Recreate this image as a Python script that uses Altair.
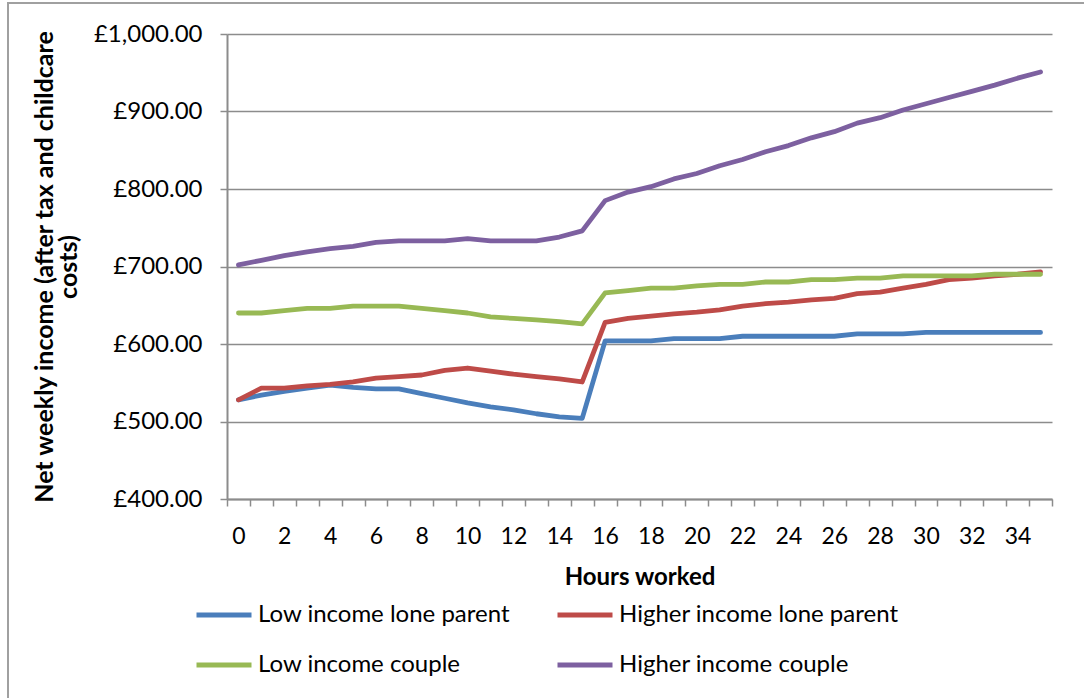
import altair as alt
import pandas as pd

hours = list(range(36))
series_names = [
    "Low income lone parent",
    "Higher income lone parent",
    "Low income couple",
    "Higher income couple",
]
low_lone = [528, 534, 539, 543, 547, 544, 542, 542, 536, 530, 524, 519, 515, 510, 506, 504,
            604, 604, 604, 607, 607, 607, 610, 610, 610, 610, 610, 613, 613, 613, 615, 615,
            615, 615, 615, 615]
high_lone = [528, 543, 543, 546, 548, 551, 556, 558, 560, 566, 569, 565, 561, 558, 555, 551,
             628, 633, 636, 639, 641, 644, 649, 652, 654, 657, 659, 665, 667, 672, 677, 683,
             685, 688, 690, 693]
low_couple = [640, 640, 643, 646, 646, 649, 649, 649, 646, 643, 640, 635, 633, 631, 629, 626,
              666, 669, 672, 672, 675, 677, 677, 680, 680, 683, 683, 685, 685, 688, 688, 688,
              688, 690, 690, 690]
high_couple = [702, 708, 714, 719, 723, 726, 731, 733, 733, 733, 736, 733, 733, 733, 738, 746,
               785, 796, 803, 813, 820, 830, 838, 848, 856, 866, 874, 885, 892, 902, 910, 918,
               926, 934, 943, 951]
y_ticks = [400, 500, 600, 700, 800, 900, 1000]
colors = ["#4A7EBB", "#BE4B48", "#98B954", "#7D60A0"]

rows = []
for name, vals in zip(series_names, [low_lone, high_lone, low_couple, high_couple]):
    for h, v in zip(hours, vals):
        rows.append({"hours": h, "income": v, "series": name})
df = pd.DataFrame(rows)

FONT = "Lato"
GRAY = "#8C8C8C"

lines = alt.Chart(df).mark_line(strokeWidth=4.8, strokeCap="round", strokeJoin="round").encode(
    x=alt.X(
        "hours:O",
        sort=hours,
        bandPosition=0.5,
        scale=alt.Scale(type="band", paddingInner=0, paddingOuter=0),
        axis=alt.Axis(
            title="Hours worked",
            labelAngle=0,
            tickBand="extent",
            labelExpr="datum.value % 2 == 0 ? datum.label : ''",
            labelOverlap=False,
            labelFont=FONT,
            labelFontSize=23,
            labelColor="#000000",
            labelPadding=19,
            tickSize=7,
            tickColor=GRAY,
            tickWidth=1.5,
            domainColor=GRAY,
            domainWidth=2,
            grid=False,
            titleFont=FONT,
            titleFontSize=24,
            titleFontWeight="bold",
            titleColor="#000000",
            titlePadding=17,
        ),
    ),
    y=alt.Y(
        "income:Q",
        scale=alt.Scale(domain=[400, 1000], nice=False, zero=False),
        axis=alt.Axis(
            values=y_ticks,
            labelExpr="'£' + format(datum.value, ',.2f')",
            labelFont=FONT,
            labelFontSize=24,
            labelColor="#000000",
            labelPadding=18,
            tickSize=7,
            tickColor=GRAY,
            tickWidth=1.5,
            domainColor=GRAY,
            domainWidth=2,
            grid=True,
            gridColor=GRAY,
            gridWidth=1.5,
            title=["Net weekly income (after tax and childcare", "costs)"],
            titleFont=FONT,
            titleFontSize=25,
            titleLineHeight=24,
            titleFontWeight="bold",
            titleColor="#000000",
            titlePadding=12,
        ),
    ),
    color=alt.Color(
        "series:N",
        sort=series_names,
        scale=alt.Scale(domain=series_names, range=colors),
        legend=alt.Legend(
            title=None,
            orient="none",
            legendX=-33,
            legendY=551,
            direction="horizontal",
            columns=2,
            symbolType="stroke",
            symbolStrokeWidth=5,
            symbolSize=3025,
            labelFont=FONT,
            labelFontSize=24,
            labelColor="#000000",
            labelOffset=4,
            labelLimit=0,
            columnPadding=36,
            rowPadding=8,
        ),
    ),
)

frame = alt.Chart(df).mark_rect(fill="transparent", stroke="#A0A0A0", strokeWidth=1.5).encode(
    x=alt.value(8 - 227),
    y=alt.value(3 - 34),
    x2=alt.value(1300),
    y2=alt.value(900),
)

chart = alt.layer(frame, lines).properties(
    width=825,
    height=465,
    autosize=alt.AutoSizeParams(type="none"),
    padding={"left": 227, "top": 34, "right": 32, "bottom": 199},
    background="white",
).configure_view(stroke=None)

chart.save("out.html", embed_options={"renderer": "svg", "actions": False})
